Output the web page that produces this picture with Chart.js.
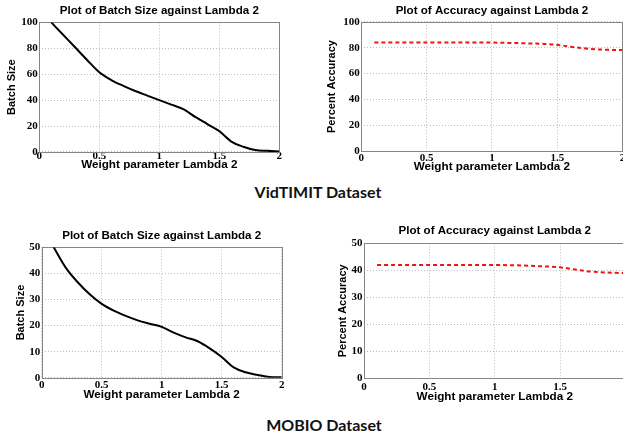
<!DOCTYPE html>
<html><head><meta charset="utf-8">
<script src="https://cdn.jsdelivr.net/npm/chart.js@4"></script>
<style>
html,body{margin:0;padding:0;background:#fff;overflow:hidden;width:623px;height:439px;position:relative;}
canvas{position:absolute;}
.lbl{position:absolute;font-family:Lato,'Open Sans',sans-serif;font-weight:700;font-size:16px;color:#111;white-space:nowrap;transform:translate(-50%,-50%);}
</style></head><body>
<canvas id="c1"></canvas>
<canvas id="c2"></canvas>
<canvas id="c3"></canvas>
<canvas id="c4"></canvas>
<div class="lbl" id="lblVid" style="left:318px;top:191px"></div>
<div class="lbl" id="lblMob" style="left:324px;top:424px"></div>
<script>
// ---- data ----
const lambda = [0.1,0.2,0.3,0.4,0.5,0.6,0.7,0.8,0.9,1.0,1.1,1.2,1.3,1.4,1.5,1.6,1.7,1.8,1.9,2.0];
const xTickLabels = ['0','0.5','1','1.5','2'];
const vidBatch = [100,90.3,80.6,70.8,61.5,55.5,51,47,43.5,40,36.5,33,27,21.5,16,8,4,1.4,0.8,0.3];
const vidAcc = [84,84,84,84,84,84,84,84,84,84,83.8,83.6,83.3,83,82.3,80.8,79.6,78.8,78.4,78.2];
const mobBatch = [50,42.2,36.6,32,28.3,25.7,23.7,22,20.7,19.5,17.3,15.5,14,11.3,8,4,2.1,1.1,0.3,0.2];
const mobAcc = [42,42,42,42,42,42,42,42,42,42,41.9,41.8,41.6,41.4,41.1,40.4,39.7,39.3,39.1,39];
const titleBatch = 'Plot of Batch Size against Lambda 2';
const titleAcc = 'Plot of Accuracy against Lambda 2';
const xAxisTitle = 'Weight parameter Lambda 2';
const yTitleBatch = 'Batch Size';
const yTitleAcc = 'Percent Accuracy';
const datasetNames = ['VidTIMIT Dataset','MOBIO Dataset'];

document.getElementById('lblVid').textContent = datasetNames[0];
document.getElementById('lblMob').textContent = datasetNames[1];

const TITLE_FS = 11.6, XT_FS = 11.7, YT_FS = 11, TICK_FS = 11, LH = 1.2;

const framePlugin = {
  id: 'frame',
  beforeDatasetsDraw(chart) {
    const {ctx, chartArea: a} = chart;
    ctx.save();
    ctx.strokeStyle = '#858585';
    ctx.lineWidth = 1;
    ctx.strokeRect(Math.round(a.left)+0.5, Math.round(a.top)+0.5, Math.round(a.right-a.left), Math.round(a.bottom-a.top));
    ctx.restore();
  }
};

function makeChart(id, L, values, style) {
  const cv = document.getElementById(id);
  cv.width = L.cw; cv.height = L.ch;
  cv.style.left = L.cx + 'px'; cv.style.top = L.cy + 'px';
  cv.style.width = L.cw + 'px'; cv.style.height = L.ch + 'px';
  const tLH = TITLE_FS*LH, xLH = XT_FS*LH, yLH = YT_FS*LH;
  const titleTop = (L.titleY - L.cy) - tLH/2;
  const titleBottom = (L.t - L.cy) - (L.titleY - L.cy) - tLH/2;
  const yW = L.l - L.cx;
  const xH = L.cy + L.ch - L.b;
  const xTitlePadB = (L.cy + L.ch) - L.xTitleY - xLH/2;
  const yTitlePadT = (L.yTitleX - L.cx) - yLH/2;
  new Chart(cv, {
    type: 'line',
    data: {
      labels: lambda,
      datasets: [{
        data: lambda.map((x,i)=>({x:x, y:values[i]})),
        borderColor: style.color,
        borderWidth: style.width,
        borderDash: style.dash,
        pointRadius: 0,
        fill: false,
        cubicInterpolationMode: 'monotone'
      }]
    },
    options: {
      responsive: false,
      animation: false,
      devicePixelRatio: 1,
      layout: { padding: { left: 0, top: 0, bottom: 0, right: L.cx + L.cw - L.r } },
      plugins: {
        legend: { display: false },
        tooltip: { enabled: false },
        title: {
          display: true, text: L.title, color: '#000', fullSize: false,
          font: { family: "'Liberation Sans', Arial, sans-serif", size: TITLE_FS, weight: 'bold', lineHeight: LH },
          padding: { top: titleTop, bottom: titleBottom }
        }
      },
      scales: {
        x: {
          type: 'linear', min: 0, max: 2,
          afterFit: s => { s.height = xH; },
          ticks: {
            stepSize: 0.5, maxRotation: 0, autoSkip: false, padding: L.xTickPad, color: '#000',
            font: { family: "'Liberation Serif', 'Times New Roman', serif", size: TICK_FS, weight: 'bold' },
            callback: (v) => { const i = Math.round(v/0.5); return xTickLabels[i]; }
          },
          grid: { color: '#bdbdbd', lineWidth: 1, drawTicks: false },
          border: { display: false, dash: [1,2] },
          title: {
            display: true, text: xAxisTitle, color: '#000',
            font: { family: "'Liberation Sans', Arial, sans-serif", size: XT_FS, weight: 'bold', lineHeight: LH },
            padding: { top: 0, bottom: xTitlePadB }
          }
        },
        y: {
          min: 0, max: L.yMax,
          afterFit: s => { s.width = yW; },
          ticks: {
            stepSize: L.yStep, padding: 1.5, color: '#000',
            font: { family: "'Liberation Serif', 'Times New Roman', serif", size: TICK_FS, weight: 'bold' }
          },
          grid: { color: '#bdbdbd', lineWidth: 1, drawTicks: false },
          border: { display: false, dash: [1,2] },
          title: {
            display: true, text: L.yTitle, color: '#000',
            font: { family: "'Liberation Sans', Arial, sans-serif", size: YT_FS, weight: 'bold', lineHeight: LH },
            padding: { top: yTitlePadT, bottom: 0 }
          }
        }
      }
    },
    plugins: [framePlugin]
  });
}

const solid = { color: '#000', width: 2, dash: [] };
const dashed = { color: 'rgb(238,20,20)', width: 2, dash: [4,3] };

makeChart('c1', {cx:0, cy:0, cw:300, ch:180, l:39.3, t:22.4, r:279.3, b:151.9, titleY:11, xTitleY:164.7, yTitleX:11.7, xTickPad:-2, yMax:100, yStep:20, title:titleBatch, yTitle:yTitleBatch}, vidBatch, solid);
makeChart('c2', {cx:300, cy:0, cw:340, ch:180, l:361.3, t:21.9, r:622.6, b:151.2, titleY:11, xTitleY:166.7, yTitleX:332.4, xTickPad:0, yMax:100, yStep:20, title:titleAcc, yTitle:yTitleAcc}, vidAcc, dashed);
makeChart('c3', {cx:0, cy:220, cw:300, ch:190, l:41.7, t:247.3, r:281.7, b:377.8, titleY:236, xTitleY:394.5, yTitleX:21, xTickPad:1, yMax:50, yStep:10, title:titleBatch, yTitle:yTitleBatch}, mobBatch, solid);
makeChart('c4', {cx:300, cy:220, cw:340, ch:190, l:364, t:243.3, r:625.5, b:378.3, titleY:230.7, xTitleY:396.7, yTitleX:342.5, xTickPad:2, yMax:50, yStep:10, title:titleAcc, yTitle:yTitleAcc}, mobAcc, dashed);
</script>
</body></html>
